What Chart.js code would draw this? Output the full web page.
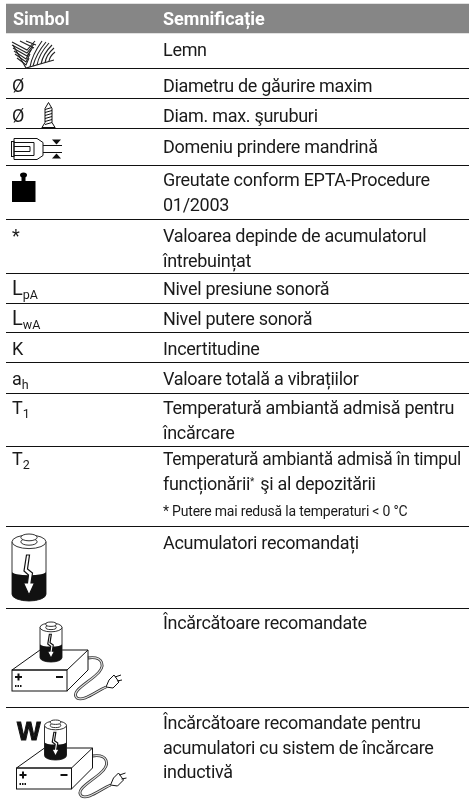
<!DOCTYPE html>
<html>
<head>
<meta charset="utf-8">
<style>
  html, body { margin: 0; padding: 0; background: #fff; }
  canvas { display: block; }
</style>
<script src="https://cdn.jsdelivr.net/npm/chart.js@4"></script>
</head>
<body>
<canvas id="tabel" width="469" height="800"></canvas>
<script>
const headerLabels = ["Simbol", "Semnificație"];
const rowSymbols = ["", "Ø", "Ø", "", "", "*", "L", "L", "K", "a", "T", "T", "", "", ""];
const rowSubscripts = ["", "", "", "", "", "", "pA", "wA", "", "h", "1", "2", "", "", ""];
const rowIcons = ["lemn", "", "surub", "mandrina", "greutate", "", "", "", "", "", "", "", "acumulator", "incarcator", "incarcatorW"];
const rowMeanings = [
  ["Lemn"],
  ["Diametru de găurire maxim"],
  ["Diam. max. şuruburi"],
  ["Domeniu prindere mandrină"],
  ["Greutate conform EPTA-Procedure", "01/2003"],
  ["Valoarea depinde de acumulatorul", "întrebuințat"],
  ["Nivel presiune sonoră"],
  ["Nivel putere sonoră"],
  ["Incertitudine"],
  ["Valoare totală a vibrațiilor"],
  ["Temperatură ambiantă admisă pentru", "încărcare"],
  ["Temperatură ambiantă admisă în timpul", "funcționării* şi al depozitării"],
  ["Acumulatori recomandați"],
  ["Încărcătoare recomandate"],
  ["Încărcătoare recomandate pentru", "acumulatori cu sistem de încărcare", "inductivă"]
];
const rowFootnotes = ["", "", "", "", "", "", "", "", "", "", "", "* Putere mai redusă la temperaturi < 0 °C", "", "", ""];
const rowHeights = [35.5, 30, 30, 36.5, 54, 54, 30, 29, 30, 31, 53, 80, 82, 99, 93];
const headerBand = [4, 33];

// marginile randurilor, pe axa y
const rowEdges = [];
rowHeights.reduce((sum, h) => { rowEdges.push(sum); return sum + h; }, headerBand[1]);

const FONT = "Roboto, sans-serif";
const TEXT_PX = 18;
const TEXT_SPACING = "-0.3px";
const TEXT_MAX_W = 298;
const COL_SYMBOL = 12;
const COL_TEXT = 163;
const FIRST_LINE = 23;
const LINE_STEP = 24.5;
// corectie verticala a textului pe fiecare rand
const rowNudge = [0, 0, 0, 1, -2, 0, -1, -1, 0, 0, -2, -4, 0, -2, -1];

function line(ctx, pts, close) {
  ctx.beginPath();
  pts.forEach((p, i) => i ? ctx.lineTo(p[0], p[1]) : ctx.moveTo(p[0], p[1]));
  if (close) ctx.closePath();
}

// acumulator cu fulger, (x,y) = colt stanga sus, w latime, h inaltime
function drawBattery(ctx, x, y, w, h) {
  const cx = x + w / 2, ry = w * 0.2;
  const fillY = y + h * 0.57;
  ctx.save();
  ctx.lineWidth = 1;
  ctx.strokeStyle = "#333";
  ctx.fillStyle = "#fff";
  ctx.beginPath();
  ctx.moveTo(x, y + ry + 2);
  ctx.lineTo(x, y + h - ry);
  ctx.ellipse(cx, y + h - ry, w / 2, ry, 0, Math.PI, 0, true);
  ctx.lineTo(x + w, y + ry + 2);
  ctx.closePath();
  ctx.fill();
  ctx.stroke();
  // partea neagra de jos
  ctx.fillStyle = "#111";
  ctx.beginPath();
  ctx.moveTo(x, fillY);
  ctx.ellipse(cx, fillY, w / 2, ry * 0.5, 0, Math.PI, 0, true);
  ctx.lineTo(x + w, y + h - ry);
  ctx.ellipse(cx, y + h - ry, w / 2, ry, 0, 0, Math.PI);
  ctx.closePath();
  ctx.fill();
  // capac
  ctx.fillStyle = "#fff";
  ctx.beginPath();
  ctx.ellipse(cx, y + ry + 2, w / 2, ry, 0, 0, Math.PI * 2);
  ctx.fill();
  ctx.stroke();
  const capW = w * 0.24, capH = w * 0.1;
  ctx.beginPath();
  ctx.ellipse(cx, y + ry + 2, capW, capH, 0, 0, Math.PI * 2);
  ctx.fill();
  ctx.stroke();
  ctx.beginPath();
  ctx.ellipse(cx, y + capH + 1, capW, capH, 0, 0, Math.PI * 2);
  ctx.fill();
  ctx.stroke();
  // fulger
  const s = w / 34;
  const bolt = [[-2.5, 22], [0.5, 22], [-1.5, 36], [3.5, 40], [2, 50], [5.5, 50], [0, 62], [-5.5, 50], [-1.5, 50], [-0.5, 42], [-5, 38]];
  line(ctx, bolt.map(p => [cx + p[0] * s, y + p[1] * h / 68]), true);
  ctx.fillStyle = "#fff";
  ctx.fill();
  ctx.strokeStyle = "#111";
  ctx.lineWidth = 1.2;
  ctx.stroke();
  ctx.restore();
}

function drawCharger(ctx, x, y) {
  ctx.save();
  ctx.strokeStyle = "#111";
  ctx.lineWidth = 1;
  ctx.fillStyle = "#fff";
  // cablu
  const cord = () => {
    ctx.beginPath();
    ctx.moveTo(x + 77, y + 38);
    ctx.bezierCurveTo(x + 92, y + 36, x + 96, y + 46, x + 84, y + 56);
    ctx.bezierCurveTo(x + 72, y + 66, x + 60, y + 72, x + 66, y + 78);
    ctx.bezierCurveTo(x + 72, y + 82, x + 84, y + 72, x + 95, y + 67);
  };
  ctx.lineWidth = 2.8; ctx.strokeStyle = "#333"; cord(); ctx.stroke();
  ctx.lineWidth = 1.2; ctx.strokeStyle = "#ddd"; cord(); ctx.stroke();
  ctx.strokeStyle = "#111";
  ctx.lineWidth = 1;
  // stecher
  line(ctx, [[x + 95, y + 67], [x + 98, y + 60], [x + 103, y + 55], [x + 108, y + 62], [x + 102, y + 68]], true);
  ctx.fill(); ctx.stroke();
  line(ctx, [[x + 104, y + 57], [x + 110, y + 55]]); ctx.stroke();
  line(ctx, [[x + 106, y + 61], [x + 111, y + 60]]); ctx.stroke();
  // cutia
  line(ctx, [[x + 1, y + 50], [x + 29, y + 30], [x + 77, y + 30], [x + 56, y + 50]], true);
  ctx.fill(); ctx.stroke();
  line(ctx, [[x + 77, y + 30], [x + 77, y + 50], [x + 56, y + 71]]); ctx.stroke();
  ctx.strokeRect(x + 1, y + 50, 55, 21);
  // plus, minus, puncte
  ctx.fillStyle = "#111";
  ctx.fillRect(x + 4, y + 56, 7, 2);
  ctx.fillRect(x + 6.5, y + 53.5, 2, 7);
  ctx.fillRect(x + 45, y + 56, 7, 2);
  [4, 6.5, 9].forEach(d => ctx.fillRect(x + d, y + 65, 1.5, 2));
  ctx.restore();
  drawBattery(ctx, x + 29, y + 1, 22, 41);
}

const icons = {
  lemn(ctx, t) {
    ctx.strokeStyle = "#222";
    ctx.lineWidth = 1.1;
    const x = 12, y = t + 8;
    // V-uri la stanga
    [[0, 1, 15, 9, 23, 0], [0, 4, 15, 12, 22, 3], [1, 7, 15, 15, 21, 6], [2, 10, 14, 18, 19, 9], [3, 13, 14, 21, 18, 13], [5, 17, 14, 24, 17, 17]]
      .forEach(v => { line(ctx, [[x + v[0], y + v[1]], [x + v[2], y + v[3]], [x + v[4], y + v[5]]]); ctx.stroke(); });
    line(ctx, [[x + 1, y + 4], [x + 14, y + 27], [x + 42, y + 19]]); ctx.stroke();
    line(ctx, [[x + 8, y + 0], [x + 22, y + 7]]); ctx.stroke();
    line(ctx, [[x + 14, y + 0], [x + 24, y + 4]]); ctx.stroke();
    // fibre curbate la dreapta
    [[18, 26, 20, 14, 30, 0], [21, 25, 24, 13, 34, 1], [25, 24, 27, 13, 37, 2], [29, 23, 31, 13, 40, 4], [33, 22, 34, 14, 42, 7], [37, 20, 38, 15, 43, 11]]
      .forEach(c => {
        ctx.beginPath();
        ctx.moveTo(x + c[0], y + c[1]);
        ctx.quadraticCurveTo(x + c[2], y + c[3], x + c[4], y + c[5]);
        ctx.stroke();
      });
  },
  surub(ctx, t) {
    ctx.strokeStyle = "#111";
    ctx.lineWidth = 1;
    const x = 48.5, y = t + 4;
    line(ctx, [[x, y], [x - 3.5, y + 6], [x - 3.5, y + 20], [x - 6.5, y + 25], [x + 6.5, y + 25], [x + 3.5, y + 20], [x + 3.5, y + 6]], true);
    ctx.stroke();
    for (let d = 5; d < 21; d += 3) {
      line(ctx, [[x - 3.5, y + d + 2], [x + 3.5, y + d]]);
      ctx.stroke();
    }
    line(ctx, [[x - 6.5, y + 25], [x - 6.5, y + 26], [x + 6.5, y + 26], [x + 6.5, y + 25]]);
    ctx.stroke();
  },
  mandrina(ctx, t) {
    ctx.strokeStyle = "#111";
    ctx.fillStyle = "#111";
    ctx.lineWidth = 1;
    const x = 11, y = t + 10;
    line(ctx, [[x + 3, y], [x + 26, y], [x + 32, y + 4], [x + 32, y + 17], [x + 26, y + 21], [x + 3, y + 21]], true);
    ctx.stroke();
    ctx.strokeRect(x + 0.5, y + 3, 2.5, 15);
    line(ctx, [[x + 3, y + 4], [x + 23, y + 4], [x + 23, y + 17], [x + 3, y + 17]]); ctx.stroke();
    line(ctx, [[x + 3, y + 8], [x + 19, y + 8], [x + 19, y + 13], [x + 3, y + 13]]); ctx.stroke();
    line(ctx, [[x + 32, y + 7], [x + 51, y + 7]]); ctx.stroke();
    line(ctx, [[x + 32, y + 14], [x + 51, y + 14]]); ctx.stroke();
    line(ctx, [[x + 41, y + 1], [x + 50, y + 1], [x + 45.5, y + 6]], true); ctx.fill();
    line(ctx, [[x + 41, y + 20], [x + 50, y + 20], [x + 45.5, y + 15]], true); ctx.fill();
  },
  greutate(ctx, t) {
    ctx.fillStyle = "#000";
    const x = 12, y = t + 7.5;
    ctx.beginPath();
    ctx.ellipse(x + 11.5, y + 2.5, 3.5, 2.5, 0, 0, Math.PI * 2);
    ctx.fill();
    ctx.fillRect(x + 9.5, y + 3, 4, 6);
    ctx.fillRect(x, y + 8.5, 23.5, 21);
  },
  acumulator(ctx, t) {
    drawBattery(ctx, 12, t + 7, 34, 68);
  },
  incarcator(ctx, t) {
    drawCharger(ctx, 11, t + 12);
  },
  incarcatorW(ctx, t) {
    ctx.fillStyle = "#111";
    ctx.strokeStyle = "#111";
    ctx.lineWidth = 1;
    ctx.font = "bold 25px 'Liberation Sans', " + FONT;
    ctx.textAlign = "left";
    ctx.fillText("W", 17, t + 33);
    ctx.strokeText("W", 17, t + 33);
    drawCharger(ctx, 15.5, t + 11);
  }
};

// textele si iconitele tabelului, pozitionate prin scalele graficului
const tablePlugin = {
  id: "tablePlugin",
  afterDatasetsDraw(chart) {
    const { ctx, scales: { x, y } } = chart;
    ctx.save();
    ctx.textBaseline = "alphabetic";
    ctx.textAlign = "left";

    ctx.fillStyle = "#fff";
    ctx.font = "bold 18px " + FONT;
    ctx.fillText(headerLabels[0], x.getPixelForValue(COL_SYMBOL + 1), y.getPixelForValue(25));
    ctx.fillText(headerLabels[1], x.getPixelForValue(COL_TEXT), y.getPixelForValue(25));

    rowMeanings.forEach((lines, i) => {
      const top = rowEdges[i];
      const baseline = top + FIRST_LINE + rowNudge[i];
      ctx.fillStyle = "#1a1a1a";

      if (rowIcons[i]) {
        ctx.save();
        icons[rowIcons[i]](ctx, y.getPixelForValue(top));
        ctx.restore();
      }

      if (rowSymbols[i]) {
        // L-ul din LpA / LwA e mai inalt in original
        ctx.font = (rowSymbols[i] === "L" ? 20 : TEXT_PX) + "px " + FONT;
        const sx = x.getPixelForValue(COL_SYMBOL);
        ctx.fillText(rowSymbols[i], sx, y.getPixelForValue(baseline));
        if (rowSubscripts[i]) {
          const w = ctx.measureText(rowSymbols[i]).width;
          ctx.font = "12.5px " + FONT;
          ctx.fillText(rowSubscripts[i], sx + w, y.getPixelForValue(baseline + 4));
        }
      }

      lines.forEach((text, k) => {
        const py = y.getPixelForValue(baseline + k * LINE_STEP);
        let px = x.getPixelForValue(COL_TEXT);
        ctx.font = TEXT_PX + "px " + FONT;
        ctx.letterSpacing = TEXT_SPACING;
        const parts = text.split("*");
        ctx.fillText(parts[0], px, py, TEXT_MAX_W);
        if (parts.length > 1) {
          px += ctx.measureText(parts[0]).width;
          ctx.font = "10px " + FONT;
          ctx.fillText("*", px, py - 5);
          px += ctx.measureText("*").width + 2;
          ctx.font = TEXT_PX + "px " + FONT;
          ctx.fillText(parts[1], px, py);
        }
        ctx.letterSpacing = "0px";
      });

      if (rowFootnotes[i]) {
        ctx.font = "14px " + FONT;
        ctx.letterSpacing = "-0.2px";
        ctx.fillText(rowFootnotes[i], x.getPixelForValue(COL_TEXT), y.getPixelForValue(baseline + lines.length * LINE_STEP + 2));
        ctx.letterSpacing = "0px";
      }
    });
    ctx.restore();
  }
};

const chart = new Chart(document.getElementById("tabel"), {
  type: "bar",
  data: {
    datasets: [{
      label: headerLabels[0],
      data: [{ x: [6, 469], y: (headerBand[0] + headerBand[1]) / 2 }],
      backgroundColor: "#868686",
      barThickness: headerBand[1] - headerBand[0]
    }]
  },
  options: {
    indexAxis: "y",
    responsive: false,
    animation: false,
    layout: { padding: { left: 6, right: 0, top: 0, bottom: 0 } },
    plugins: { legend: { display: false }, tooltip: { enabled: false } },
    scales: {
      x: { type: "linear", min: 6, max: 469, display: false },
      y: {
        type: "linear",
        reverse: true,
        offset: false,
        min: 0,
        max: 800,
        border: { display: false },
        grid: { color: "#111", lineWidth: 1, drawTicks: false, offset: false },
        ticks: { display: false, autoSkip: false },
        afterBuildTicks(scale) {
          scale.ticks = rowEdges.slice(1).map(v => ({ value: v }));
        }
      }
    }
  },
  plugins: [tablePlugin]
});
</script>
</body>
</html>
